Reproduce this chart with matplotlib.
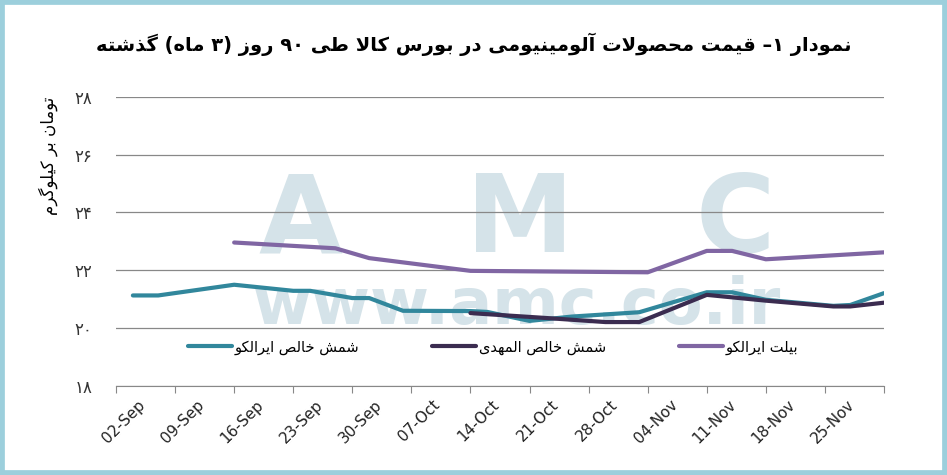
import matplotlib
matplotlib.use('Agg')
import matplotlib.pyplot as plt
import matplotlib.transforms as mtransforms
from matplotlib.patches import Rectangle
from matplotlib.lines import Line2D
import pandas as pd

# --- data ---
teal_dates = ['2019-09-04', '2019-09-07', '2019-09-16', '2019-09-23', '2019-09-25',
              '2019-09-30', '2019-10-02', '2019-10-06', '2019-10-14', '2019-10-16',
              '2019-10-21', '2019-10-26', '2019-11-03', '2019-11-11', '2019-11-14',
              '2019-11-18', '2019-11-26', '2019-11-28', '2019-12-02']
teal_vals = [21.13, 21.13, 21.50, 21.29, 21.29, 21.04, 21.04, 20.60, 20.59, 20.56,
             20.25, 20.40, 20.55, 21.24, 21.24, 20.98, 20.77, 20.80, 21.21]

dark_dates = ['2019-10-14', '2019-10-23', '2019-10-30', '2019-11-03', '2019-11-11',
              '2019-11-18', '2019-11-26', '2019-11-28', '2019-12-02']
dark_vals = [20.52, 20.35, 20.21, 20.21, 21.15, 20.95, 20.75, 20.75, 20.88]

purple_dates = ['2019-09-16', '2019-09-28', '2019-10-02', '2019-10-14', '2019-11-04',
                '2019-11-11', '2019-11-14', '2019-11-18', '2019-12-02']
purple_vals = [22.96, 22.76, 22.42, 21.98, 21.93, 22.67, 22.67, 22.38, 22.62]

series_names = ['شمش خالص ایرالکو', 'شمش خالص المهدی', 'بیلت ایرالکو']
series_colors = ['#31879c', '#3b2c50', '#8066a3']

title_txt = 'نمودار ۱– قیمت محصولات آلومینیومی در بورس کالا طی ۹۰ روز (۳ ماه) گذشته'
ylabel_txt = 'تومان بر کیلوگرم'

y_ticks = [18, 20, 22, 24, 26, 28]
x_start = '2019-09-02'
x_end = '2019-12-02'


# --- tiny Persian shaper: matplotlib has no complex text layout ---
DUAL = {'ب': 0xFE8F, 'ت': 0xFE95, 'ث': 0xFE99, 'ج': 0xFE9D, 'ح': 0xFEA1, 'خ': 0xFEA5,
        'س': 0xFEB1, 'ش': 0xFEB5, 'ص': 0xFEB9, 'ض': 0xFEBD, 'ط': 0xFEC1, 'ظ': 0xFEC5,
        'ع': 0xFEC9, 'غ': 0xFECD, 'ف': 0xFED1, 'ق': 0xFED5, 'ل': 0xFEDD, 'م': 0xFEE1,
        'ن': 0xFEE5, 'ه': 0xFEE9, 'ي': 0xFEF1, 'پ': 0xFB56, 'چ': 0xFB7A, 'ک': 0xFB8E,
        'گ': 0xFB92, 'ی': 0xFBFC}
RIGHT = {'ا': 0xFE8D, 'آ': 0xFE81, 'د': 0xFEA9, 'ذ': 0xFEAB, 'ر': 0xFEAD, 'ز': 0xFEAF,
         'و': 0xFEED, 'ژ': 0xFB8A}
LAMALEF = {'ا': 0xFEFB, 'آ': 0xFEF5}
DIGITS = set('۰۱۲۳۴۵۶۷۸۹0123456789')


def shape(text):
    out = []
    i = 0
    n = len(text)
    while i < n:
        c = text[i]
        prev = text[i - 1] if i > 0 else ''
        nxt = text[i + 1] if i + 1 < n else ''
        if c == 'ل' and nxt in LAMALEF:
            out.append(chr(LAMALEF[nxt] + (1 if prev in DUAL else 0)))
            i += 2
            continue
        if c in DUAL:
            jn = nxt in DUAL or nxt in RIGHT
            jp = prev in DUAL
            out.append(chr(DUAL[c] + {(False, False): 0, (True, False): 1,
                                      (False, True): 2, (True, True): 3}[(jp, jn)]))
        elif c in RIGHT:
            out.append(chr(RIGHT[c] + (1 if prev in DUAL else 0)))
        else:
            out.append(c)
        i += 1
    # visual order: reverse, but keep digit runs left-to-right
    runs = []
    for ch in out:
        if runs and (ch in DIGITS) == (runs[-1][0] in DIGITS):
            runs[-1] += ch
        else:
            runs.append(ch)
    vis = ''
    for r in reversed(runs):
        vis += r if r[0] in DIGITS else r[::-1]
    return vis.translate(str.maketrans('()', ')('))


def fa_digits(v):
    return str(v).translate(str.maketrans('0123456789', '۰۱۲۳۴۵۶۷۸۹'))


plt.rcParams['font.family'] = ['DejaVu Sans']

fig = plt.figure(figsize=(9.47, 4.75), dpi=100)
ax = fig.add_axes([116 / 947, 89 / 475, 768 / 947, 289.3 / 475])
ax.set_facecolor('none')

# watermark
wm = '#d5e3e9'
for letter, xc in zip('AMC', [300, 520, 735]):
    ax.text(xc / 947, 1 - 222 / 475, letter, transform=fig.transFigure, fontsize=78,
            fontweight='bold', color=wm, ha='center', va='center', zorder=0)
ax.text(517 / 947, 1 - 324 / 475, 'www.amc.co.ir', transform=fig.transFigure,
        fontsize=46, fontweight='bold', color=wm, ha='center', va='baseline', zorder=0)

all_dates = [teal_dates, dark_dates, purple_dates]
all_vals = [teal_vals, dark_vals, purple_vals]
for d, v, col in zip(all_dates, all_vals, series_colors):
    ax.plot(pd.to_datetime(d), v, color=col, lw=3, solid_capstyle='round',
            solid_joinstyle='round', zorder=2)

ax.set_ylim(18, 28)
ax.set_yticks(y_ticks)
ax.set_yticklabels([fa_digits(t) for t in y_ticks], fontsize=12, color='#333333')
ax.tick_params(axis='y', length=0, pad=17)
ax.grid(axis='y', color='#888888', lw=0.9)
ax.set_axisbelow(True)

x0 = pd.Timestamp(x_start)
x1 = pd.Timestamp(x_end)
ax.set_xlim(x0, x1)
tick_dates = pd.date_range(x0, x1, freq='7D')
ax.set_xticks(tick_dates)
ax.set_xticklabels([t.strftime('%d-%b') if t < x1 else '' for t in tick_dates],
                   rotation=45, ha='center', fontsize=11, color='#222222')
ax.tick_params(axis='x', direction='out', length=5, color='#888888', pad=3)
shift = mtransforms.ScaledTranslation(8 / 100, 0, fig.dpi_scale_trans)
for lab in ax.get_xticklabels():
    lab.set_transform(lab.get_transform() + shift)

for s in ['top', 'right', 'left']:
    ax.spines[s].set_visible(False)
ax.spines['bottom'].set_color('#888888')

handles = [Line2D([], [], color=c, lw=3, solid_capstyle='round') for c in series_colors]
fig.legend(handles, [shape(s) for s in series_names], loc='center', ncol=3,
           bbox_to_anchor=(493 / 947, 1 - 347 / 475), frameon=False, fontsize=10.5,
           handlelength=3, columnspacing=5, handletextpad=0.2)

fig.text(0.5, 1 - 44 / 475, shape(title_txt), ha='center', va='center',
         fontsize=14, fontweight='bold', color='black')
fig.text(48 / 947, 1 - 156 / 475, shape(ylabel_txt), ha='center', va='center',
         rotation=90, fontsize=12, color='black')

fig.add_artist(Rectangle((0, 0), 1, 1, transform=fig.transFigure, fill=False,
                         edgecolor='#9ccfdc', lw=7))

fig.savefig('out.png', dpi=100)
